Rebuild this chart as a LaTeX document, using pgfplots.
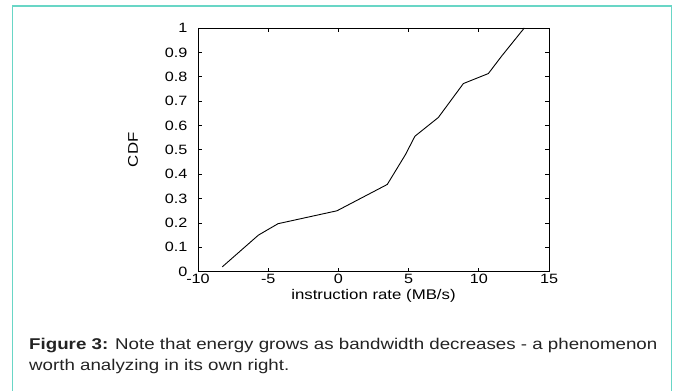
\documentclass[border=0pt]{standalone}
\usepackage{pgfplots}
\pgfplotsset{compat=1.18}
\usepackage{fontspec}
\setmainfont[FakeStretch=1.2]{Liberation Sans}
\definecolor{frame}{RGB}{105,214,198}
\definecolor{captxt}{RGB}{35,35,35}
\begin{document}
\begin{tikzpicture}[x=1bp,y=1bp]
\path[use as bounding box] (0,0) rectangle (680,390);
\draw[frame, line width=1.6bp] (12.5,-5) -- (12.5,384) -- (671.5,384) -- (671.5,-5);
\begin{axis}[
  at={(198bp,118.3bp)}, anchor=south west,
  scale only axis, width=351bp, height=243.7bp,
  xmin=-10, xmax=15, ymin=0, ymax=1,
  xtick={-10,-5,0,5,10,15},
  ytick={0,0.1,0.2,0.3,0.4,0.5,0.6,0.7,0.8,0.9,1},
  yticklabels={0,0.1,0.2,0.3,0.4,0.5,0.6,0.7,0.8,0.9,1},
  xticklabels={-10,-5,0,5,10,15},
  tick pos=both, tick align=inside,
  major tick length=4bp,
  axis line style={line width=0.9bp},
  every tick/.style={black, line width=0.7bp},
  tick label style={font=\fontsize{13.5bp}{16bp}\selectfont},
  xticklabel style={anchor=base, yshift=-11.5bp},
  yticklabel style={xshift=-7bp},
  label style={font=\fontsize{14bp}{17bp}\selectfont},
  xlabel={instruction rate (MB/s)},
  xlabel style={at={(axis description cs:0.5,-0.1133)}, anchor=base},
  ylabel={CDF},
  ylabel style={at={(axis description cs:-0.185,0.5)}, anchor=center},
]
\addplot[black, line width=0.9bp, mark=none] coordinates {
(-8.27,0.02) (-5.7,0.15) (-4.3,0.197) (-0.1,0.25) (3.48,0.358) (4.77,0.48)
(5.45,0.556) (7.12,0.633) (8.9,0.772) (10.68,0.813) (11.63,0.885) (13.24,1.0)
};
\end{axis}
\node[anchor=base west, text=captxt, font=\fontsize{15.6bp}{19bp}\selectfont, inner sep=0] at (29,40.7)
  {\textbf{Figure 3:} Note that energy grows as bandwidth decreases - a phenomenon};
\node[anchor=base west, text=captxt, font=\fontsize{15.6bp}{19bp}\selectfont, inner sep=0] at (29,20)
  {worth analyzing in its own right.};
\end{tikzpicture}
\end{document}
